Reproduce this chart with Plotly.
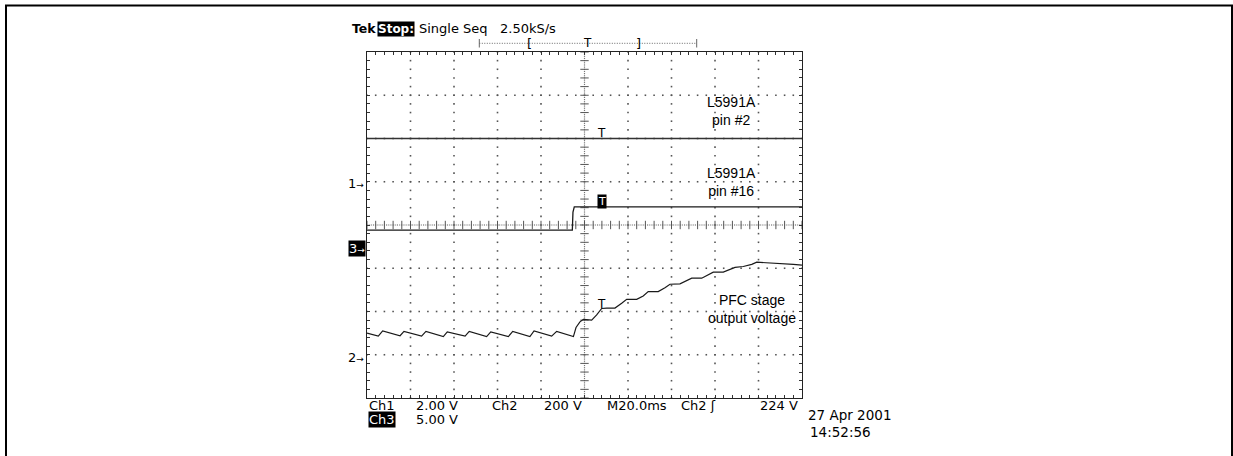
import numpy as np
import plotly.graph_objects as go

# ---------------- data (time in ms, vertical in scope divisions, centre = 0) -------------
pin2_t = [-100, 100]
pin2_v = [2.0, 2.0]

pin16_t = [-100, -5.6, -5.3, -4.7, 100]
pin16_v = [-0.12, -0.12, 0.30, 0.42, 0.42]

pfc_t = [-100, -94.8, -92.8, -84.8, -83.0, -74.9, -72.9, -64.9, -63.1, -54.9, -53.0,
         -45.0, -43.1, -35.0, -33.0, -25.1, -23.2, -15.1, -12.8, -5.1,
         -3.9, -2.1, -0.5, 3.3, 5.6, 7.9, 10.2, 14.0, 17.1, 19.4, 24.0, 27.0, 29.3,
         33.9, 37.0, 39.3, 43.9, 47.0, 49.3, 53.9, 56.9, 59.2, 63.8, 66.9, 69.2,
         73.0, 76.9, 79.2, 83.8, 89.9, 96.0, 100]
pfc_v = [-2.50, -2.57, -2.45, -2.56, -2.46, -2.57, -2.46, -2.58, -2.47, -2.57, -2.46,
         -2.58, -2.47, -2.58, -2.46, -2.58, -2.45, -2.57, -2.46, -2.58,
         -2.37, -2.24, -2.18, -2.20, -2.08, -1.93, -1.92, -1.92, -1.81, -1.72, -1.72,
         -1.64, -1.54, -1.54, -1.45, -1.37, -1.36, -1.29, -1.23, -1.23, -1.16, -1.09,
         -1.09, -1.02, -0.98, -0.96, -0.91, -0.86, -0.87, -0.90, -0.91, -0.93]

labels = [("L5991A<br>pin #2", 731, 111),
          ("L5991A<br>pin #16", 731, 182),
          ("PFC stage<br>output voltage", 752, 309)]

# ---------------- layout geometry ----------------
W, H = 1233, 456
L, R, T, B = 367, 802, 52, 398


def P(px, py):
    return (px - L) / (R - L), (B - py) / (B - T)


SCOPE_FONT = "DejaVu Sans"
GRID = "#555555"
INK = "#1a1a1a"

fig = go.Figure()

# graticule dots
minor_x = np.arange(-100, 100.01, 4)
minor_y = np.arange(-4, 4.001, 0.2)
gx, gy = [], []
for xv in np.arange(-80, 81, 20):
    if xv == 0:
        continue
    gx += [xv] * len(minor_y)
    gy += list(minor_y)
for yv in np.arange(-3, 3.1, 1):
    if yv == 0:
        continue
    gx += list(minor_x)
    gy += [yv] * len(minor_x)
fig.add_trace(go.Scatter(x=gx, y=gy, mode="markers",
                         marker=dict(symbol="square", size=1.6, color=GRID, line=dict(width=0)),
                         hoverinfo="skip", showlegend=False))

# centre crosshair: fine dots + tick marks
fine_x = np.arange(-100, 100.01, 1.0)
fine_y = np.arange(-4, 4.001, 0.05)
fig.add_trace(go.Scatter(x=list(fine_x) + [0] * len(fine_y), y=[0] * len(fine_x) + list(fine_y),
                         mode="markers",
                         marker=dict(symbol="square", size=1.2, color="#777777", line=dict(width=0)),
                         hoverinfo="skip", showlegend=False))
fig.add_trace(go.Scatter(x=minor_x, y=[0] * len(minor_x), mode="markers",
                         marker=dict(symbol="line-ns", size=6, line=dict(width=1, color=GRID)),
                         hoverinfo="skip", showlegend=False))
fig.add_trace(go.Scatter(x=[0] * len(minor_y), y=minor_y, mode="markers",
                         marker=dict(symbol="line-ew", size=6, line=dict(width=1, color=GRID)),
                         hoverinfo="skip", showlegend=False))

# signals
fig.add_trace(go.Scatter(x=pin2_t, y=pin2_v, mode="lines", line=dict(color="#333333", width=1.3),
                         hoverinfo="skip", showlegend=False))
fig.add_trace(go.Scatter(x=pin16_t, y=pin16_v, mode="lines", line=dict(color=INK, width=1.3),
                         hoverinfo="skip", showlegend=False))
fig.add_trace(go.Scatter(x=pfc_t, y=pfc_v, mode="lines", line=dict(color=INK, width=1.2),
                         hoverinfo="skip", showlegend=False))

ann = []


def text(s, px, py, size=12, xanchor="left", color="black", bg=None, family=SCOPE_FONT, pad=0):
    x, y = P(px, py)
    d = dict(text=s, x=x, y=y, xref="paper", yref="paper", xanchor=xanchor, yanchor="middle",
             showarrow=False, font=dict(family=family, size=size, color=color), borderpad=pad)
    if bg:
        d["bgcolor"] = bg
    ann.append(d)


# trigger markers "T"
text("T", 601.7, 133, size=12, xanchor="center")
text("T", 602, 201, size=11, xanchor="center", color="white", bg="black", pad=0)
text("T", 601.7, 304, size=12, xanchor="center")

# channel ground markers
arrow = "<span style='font-size:9px'>\u2192</span>"
text("1" + arrow, 365, 183, size=13, xanchor="right")
text("3" + arrow, 366, 248, size=13, xanchor="right", color="white", bg="black")
text("2" + arrow, 365, 357, size=13, xanchor="right")

# signal labels
for s, px, py in labels:
    x, y = P(px, py)
    ann.append(dict(text=s, x=x, y=y, xref="paper", yref="paper", xanchor="center",
                    yanchor="middle", showarrow=False, align="center",
                    font=dict(family="Liberation Sans", size=14, color="black")))

# header
text("<b>Tek</b>", 351, 29, size=12.5)
text("<b>Stop:</b>", 376.5, 29, size=12, color="white", bg="black")
text("Single Seq", 418, 29, size=13)
text("2.50kS/s", 499, 29, size=13)

# record-length bar
text("[", 529, 43, size=13, xanchor="center")
text("T", 587, 43, size=12, xanchor="center")
text("]", 638, 43, size=13, xanchor="center")

# bottom readout
text("Ch1", 368, 405, size=13)
text("2.00 V", 415, 405, size=13)
text("Ch2", 491, 405, size=13)
text("200 V", 543, 405, size=13)
text("M20.0ms", 606, 405, size=13)
text("Ch2 \u0283", 680, 405, size=13)
text("224 V", 759, 405, size=13)
text("Ch3", 368, 420, size=13, color="white", bg="black")
text("5.00 V", 415, 420, size=13)
text("27 Apr 2001", 807, 415, size=13.5)
text("14:52:56", 809, 432, size=13.5)

shapes = []
# record-length bar lines
x0, y0 = P(479.3, 43.3)
x1, _ = P(696.7, 43.3)
shapes.append(dict(type="line", xref="paper", yref="paper", x0=x0, x1=x1, y0=y0, y1=y0,
                   line=dict(color="#666666", width=1, dash="1px,1.5px")))
for px in (479.3, 696.7):
    xa, ya = P(px, 39)
    _, yb = P(px, 47.5)
    shapes.append(dict(type="line", xref="paper", yref="paper", x0=xa, x1=xa, y0=ya, y1=yb,
                       line=dict(color="#666666", width=1)))
# outer frame
fx0, fy1 = P(6, 5.5)
fx1, fy0 = P(1232, 480)
shapes.append(dict(type="rect", xref="paper", yref="paper", x0=fx0, x1=fx1, y0=fy0, y1=fy1,
                   line=dict(color="black", width=2)))

axis_common = dict(showgrid=False, zeroline=False, showline=True, linecolor="#222222",
                   linewidth=1, mirror="ticks", ticks="inside", ticklen=3, tickcolor="#333333",
                   tickwidth=1, showticklabels=False, fixedrange=True)

fig.update_layout(
    width=W, height=H, autosize=False,
    margin=dict(l=L, r=W - R, t=T, b=H - B, pad=0),
    paper_bgcolor="white", plot_bgcolor="white",
    xaxis=dict(range=[-100, 100], dtick=4, tick0=0, **axis_common),
    yaxis=dict(range=[-4, 4], dtick=0.2, tick0=0, **axis_common),
    annotations=ann, shapes=shapes, showlegend=False,
)

fig.write_html("out.html", config={"displayModeBar": False},
               post_script="document.body.style.margin='0';document.body.style.overflow='hidden';")
